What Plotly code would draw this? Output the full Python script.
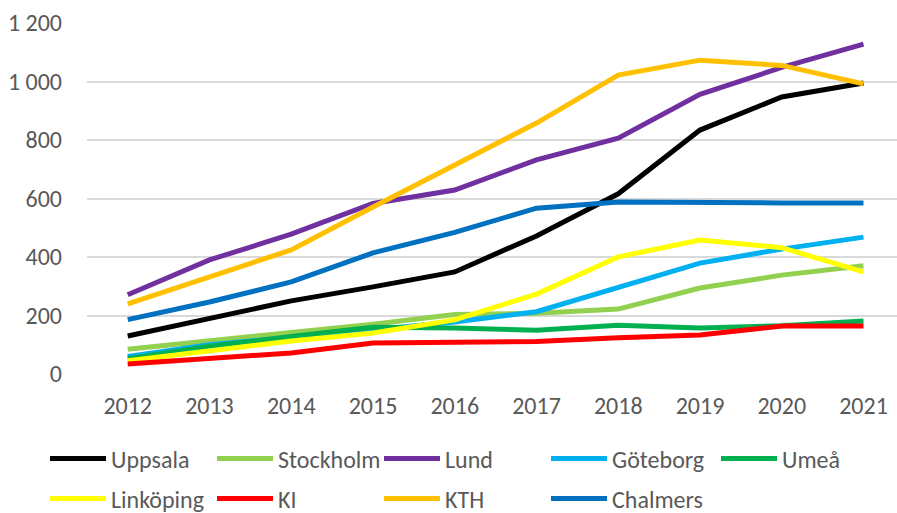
import plotly.graph_objects as go

years = ["2012", "2013", "2014", "2015", "2016", "2017", "2018", "2019", "2020", "2021"]

uppsala   = [130, 191, 250, 298, 349, 472, 616, 834, 947, 995]
stockholm = [85, 112, 140, 170, 203, 208, 222, 294, 338, 370]
lund      = [271, 390, 478, 583, 629, 732, 806, 956, 1048, 1128]
goteborg  = [60, 100, 125, 150, 178, 213, 297, 379, 427, 468]
umea      = [52, 95, 128, 160, 157, 150, 167, 157, 165, 181]
linkoping = [45, 80, 113, 140, 185, 273, 400, 458, 432, 349]
ki        = [34, 51, 72, 106, 108, 111, 124, 133, 164, 164]
kth       = [240, 332, 424, 571, 713, 858, 1022, 1073, 1055, 992]
chalmers  = [186, 246, 315, 414, 484, 567, 588, 585, 585, 585]

names = ["Uppsala", "Stockholm", "Lund", "Göteborg", "Umeå",
         "Linköping", "KI", "KTH", "Chalmers"]
series = [uppsala, stockholm, lund, goteborg, umea, linkoping, ki, kth, chalmers]
colors = ["#000000", "#92D050", "#7030A0", "#00B0F0", "#00B050",
          "#FFFF00", "#FF0000", "#FFC000", "#0070C0"]
legend_ids = ["legend"] * 4 + ["legend3"] + ["legend2"] * 4

FONT = "Carlito, Lato, sans-serif"
TXT = "#595959"

fig = go.Figure()
for n, s, c, lg in zip(names, series, colors, legend_ids):
    fig.add_trace(go.Scatter(x=years, y=s, name=n, mode="lines",
                             line=dict(color=c, width=5), legend=lg))

leg_common = dict(orientation="h", xanchor="left", yanchor="middle",
                  xref="container", yref="container",
                  font=dict(family=FONT, size=24, color=TXT),
                  entrywidth=96, entrywidthmode="pixels",
                  bgcolor="rgba(0,0,0,0)", itemwidth=56,
                  traceorder="normal")

fig.update_layout(
    width=897, height=513,
    margin=dict(l=87, r=0, t=23, b=139, autoexpand=False),
    paper_bgcolor="white", plot_bgcolor="white",
    separators=", ",
    font=dict(family=FONT, size=24, color=TXT),
    xaxis=dict(type="category", range=[-0.498, 9.41], showgrid=False,
               zeroline=False, showline=False, ticks="", automargin=False,
               tickfont=dict(family=FONT, size=24, color=TXT),
               ticklabelstandoff=15),
    yaxis=dict(range=[0, 1200], dtick=200, tickformat=",d", automargin=False,
               showgrid=True, gridcolor="#d9d9d9", gridwidth=1.5,
               zeroline=False, showline=False, ticks="",
               tickfont=dict(family=FONT, size=24, color=TXT),
               ticklabelstandoff=24),
    legend=dict(x=45 / 897, y=(513 - 459) / 513, **leg_common),
    legend3=dict(x=716 / 897, y=(513 - 459) / 513, **leg_common),
    legend2=dict(x=45 / 897, y=(513 - 499) / 513, **leg_common),
)

fig.write_html("out.html", config={"displayModeBar": False},
               post_script="document.body.style.margin='0';")
